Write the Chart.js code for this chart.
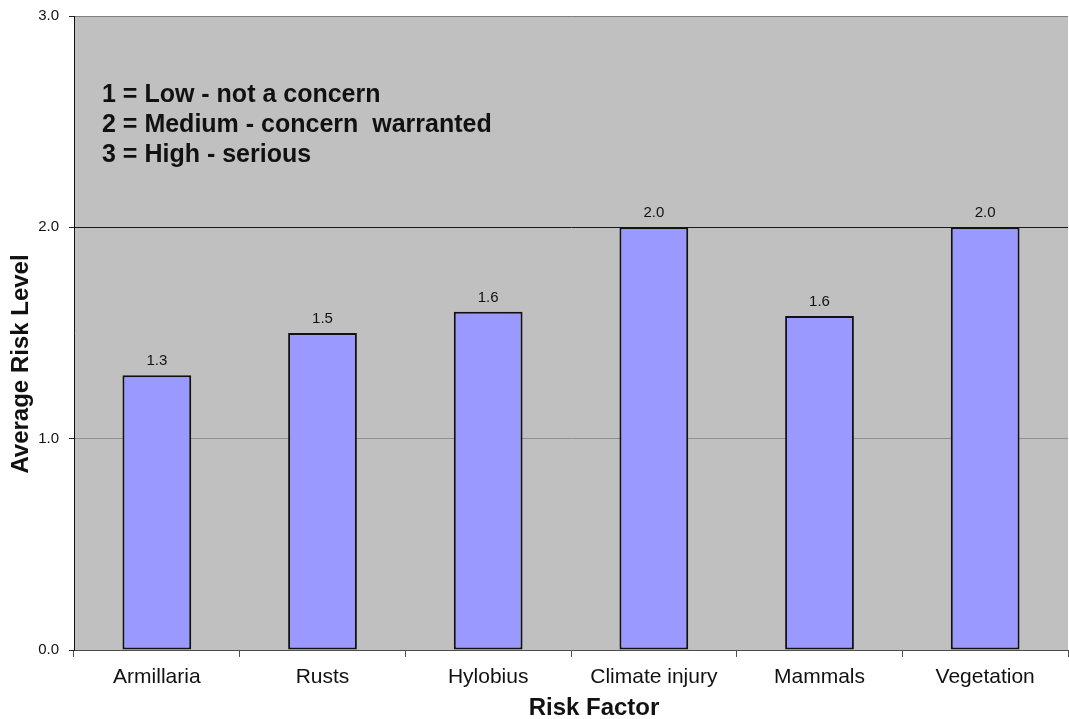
<!DOCTYPE html>
<html>
<head>
<meta charset="utf-8">
<title>Average Risk Level by Risk Factor</title>
<script src="https://cdn.jsdelivr.net/npm/chart.js@4"></script>
<style>
  html, body { margin: 0; padding: 0; background: #ffffff; }
  #wrap { width: 1069px; height: 719px; }
</style>
</head>
<body>
<div id="wrap"><canvas id="chart" width="1069" height="719"></canvas></div>
<script>
// Risk factors and their average risk level (scale 1-3)
const categories = ['Armillaria', 'Rusts', 'Hylobius', 'Climate injury', 'Mammals', 'Vegetation'];
const riskLevels = [1.3, 1.5, 1.6, 2.0, 1.58, 2.0];
const yTickValues = [0, 1, 2, 3];
const keyLines = [
  '1 = Low - not a concern',
  '2 = Medium - concern  warranted',
  '3 = High - serious'
];
const xTitle = 'Risk Factor';
const yTitle = 'Average Risk Level';

const FONT = '"Liberation Sans", Arial, Helvetica, sans-serif';

// Grey plot background
const plotBackground = {
  id: 'plotBackground',
  beforeDraw(chart) {
    const { ctx, chartArea: a } = chart;
    ctx.save();
    ctx.fillStyle = '#c0c0c0';
    ctx.fillRect(a.left, a.top, a.right - a.left, a.bottom - a.top);
    ctx.restore();
  }
};

// Value labels above each bar, the key text and the axis titles
const annotations = {
  id: 'annotations',
  afterDatasetsDraw(chart) {
    const { ctx } = chart;
    const meta = chart.getDatasetMeta(0);
    ctx.save();
    ctx.fillStyle = '#111111';
    ctx.textAlign = 'center';
    ctx.textBaseline = 'alphabetic';
    ctx.font = '15px ' + FONT;
    meta.data.forEach((bar, i) => {
      ctx.fillText(riskLevels[i].toFixed(1), bar.x, bar.y - 10);
    });

    ctx.textAlign = 'left';
    ctx.font = 'bold 25px ' + FONT;
    keyLines.forEach((line, i) => {
      ctx.fillText(line, 102, 102 + i * 30);
    });

    ctx.textAlign = 'center';
    ctx.font = 'bold 24px ' + FONT;
    ctx.fillText(xTitle, 594, 715);

    ctx.translate(28, 364);
    ctx.rotate(-Math.PI / 2);
    ctx.fillText(yTitle, 0, 0);
    ctx.restore();
  }
};

new Chart(document.getElementById('chart'), {
  type: 'bar',
  data: {
    labels: categories,
    datasets: [{
      data: riskLevels,
      backgroundColor: '#9999ff',
      borderColor: '#111111',
      borderWidth: 2,
      borderSkipped: false,
      categoryPercentage: 1.0,
      barPercentage: 0.415
    }]
  },
  options: {
    responsive: false,
    animation: false,
    devicePixelRatio: 1,
    layout: { padding: { top: 16, right: 1, left: 0, bottom: 0 } },
    plugins: {
      legend: { display: false },
      tooltip: { enabled: false },
      title: { display: false }
    },
    scales: {
      x: {
        offset: true,
        afterFit(scale) {
          scale.height = 69;
          scale.paddingLeft = 0;
          scale.paddingRight = 0;
        },
        border: { display: true, color: '#4d4d4d', width: 1 },
        grid: {
          offset: true,
          drawOnChartArea: false,
          drawTicks: true,
          tickLength: 7,
          color: '#4d4d4d'
        },
        ticks: {
          color: '#111111',
          font: { family: FONT, size: 21 },
          padding: 8,
          maxRotation: 0
        }
      },
      y: {
        min: 0,
        max: 3,
        afterFit(scale) {
          scale.width = 74;
          scale.paddingTop = 0;
          scale.paddingBottom = 0;
        },
        afterBuildTicks(scale) {
          scale.ticks = yTickValues.map(v => ({ value: v }));
        },
        border: { display: true, color: '#111111', width: 1 },
        grid: {
          drawTicks: true,
          tickLength: 5,
          color(ctx) {
            const v = ctx.tick ? ctx.tick.value : null;
            if (v === 2) return '#1a1a1a';
            if (v === 3) return '#7f7f7f';
            if (v === 1) return '#8f8f8f';
            return '#4d4d4d';
          },
          tickColor: '#222222'
        },
        ticks: {
          color: '#111111',
          font: { family: FONT, size: 15 },
          padding: 10,
          callback(value) { return Number(value).toFixed(1); }
        }
      }
    }
  },
  plugins: [plotBackground, annotations]
});
</script>
</body>
</html>
